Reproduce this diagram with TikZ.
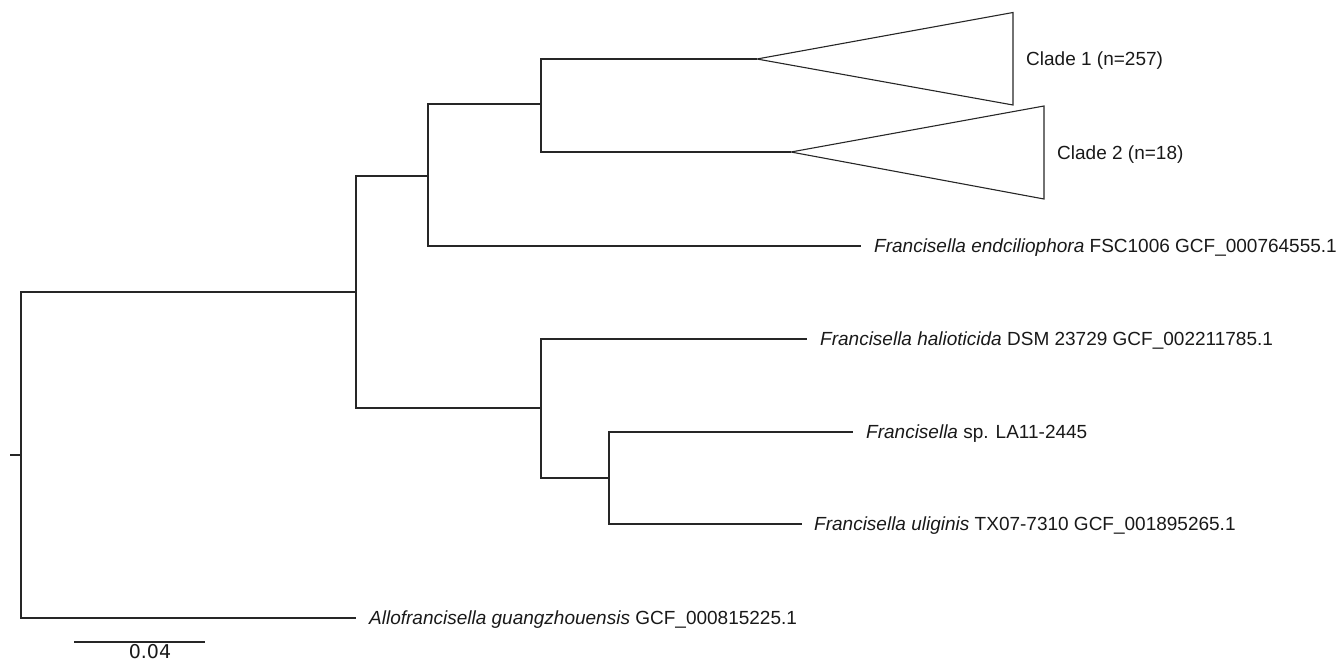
\documentclass[tikz,border=0pt]{standalone}
\usepackage{fontspec}
\setmainfont{Liberation Sans}
\newfontfamily\barfont{DejaVu Sans}
\usetikzlibrary{positioning,calc}

\tikzset{
  branch/.style={line width=1.3pt, draw=black!85},
  taxon/.style={inner sep=0pt, text height=13.6pt, text depth=0pt, text=black!90,
                font=\fontsize{19}{22}\selectfont},
}

\begin{document}
\begin{tikzpicture}[x=1pt,y=-1pt]
\useasboundingbox (0,0) rectangle (1337,662);

% Internal nodes
\coordinate (stub) at (10,455);
\coordinate (root) at (21,455);
\coordinate (n1) at (356,292);
\coordinate (n2) at (428,176);
\coordinate (n3) at (541,104);
\coordinate (n4) at (541,408);
\coordinate (n5) at (609,478);

% Tips
\coordinate (clade1) at (757,59);
\coordinate (clade2) at (791,152);
\coordinate (endc) at (861,246);
\coordinate (halio) at (807,339);
\coordinate (spla) at (853,432);
\coordinate (ulig) at (802,524);
\coordinate (allo) at (356,618);

% Branches
\draw[branch] (stub) -- (root);
\draw[branch] (root) |- (n1);
\draw[branch] (root) |- (allo);
\draw[branch] (n1) |- (n2);
\draw[branch] (n1) |- (n4);
\draw[branch] (n2) |- (n3);
\draw[branch] (n2) |- (endc);
\draw[branch] (n3) |- (clade1);
\draw[branch] (n3) |- (clade2);
\draw[branch] (n4) |- (halio);
\draw[branch] (n4) |- (n5);
\draw[branch] (n5) |- (spla);
\draw[branch] (n5) |- (ulig);

% Collapsed clades
\draw[branch, line width=1.1pt] (clade1) -- ++(256,-46.5) coordinate (c1top) -- ++(0,92.5) coordinate (c1bot) -- cycle;
\draw[branch, line width=1.1pt] (clade2) -- ++(253,-46) coordinate (c2top) -- ++(0,93) coordinate (c2bot) -- cycle;
\coordinate (c1mid) at ($(c1top)!0.5!(c1bot)$);
\coordinate (c2mid) at ($(c2top)!0.5!(c2bot)$);

% Labels
\node[taxon, right=13pt of c1mid] (clade1lab) {Clade 1 (n=257)};
\node[taxon, right=13pt of c2mid] (clade2lab) {Clade 2 (n=18)};
\node[taxon, right=13pt of endc] (endclab) {\textit{Francisella endciliophora} FSC1006 GCF\_000764555.1};
\node[taxon, right=13pt of halio] (haliolab) {\textit{Francisella halioticida} DSM 23729 GCF\_002211785.1};
\node[taxon, right=13pt of spla] (splalab) {\textit{Francisella} sp. LA11-2445};
\node[taxon, right=12pt of ulig] (uliglab) {\textit{Francisella uliginis} TX07-7310 GCF\_001895265.1};
\node[taxon, right=13pt of allo] (allolab) {\textit{Allofrancisella guangzhouensis} GCF\_000815225.1};

% Scale bar
\coordinate (sb1) at (74,642);
\coordinate (sb2) at (205,642);
\draw[branch] (sb1) -- (sb2);
\node[anchor=base, inner sep=0pt, text=black!90, font=\barfont\fontsize{19}{22}\selectfont] (sblab) at (150,658.5) {0.04};
\end{tikzpicture}
\end{document}
